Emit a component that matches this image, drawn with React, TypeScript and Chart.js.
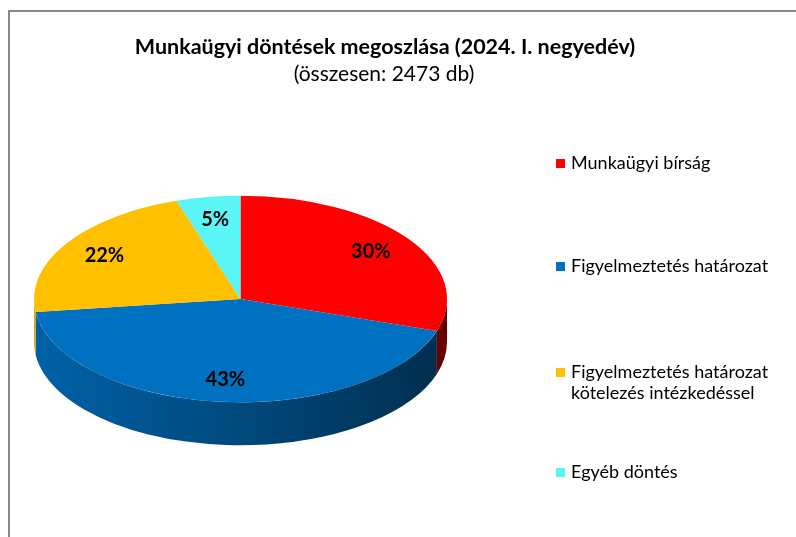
import React, { useEffect, useRef } from "react";
import { Chart, registerables } from "chart.js";

Chart.register(...registerables);

const titleText = "Munkaügyi döntések megoszlása (2024. I. negyedév)";
const subtitleText = "(összesen: 2473 db)";
const categories: (string | string[])[] = [
  "Munkaügyi bírság",
  "Figyelmeztetés határozat",
  ["Figyelmeztetés határozat", "kötelezés intézkedéssel"],
  "Egyéb döntés",
];
const counts = [742, 1063, 544, 124];
const colors = ["#FF0000", "#0070C0", "#FFC000", "#5CF5F5"];

const FONT = "Lato, 'Open Sans', sans-serif";
const SQUASH = 0.5;
const DEPTH = 43;
const LABEL_FRAC = 0.78;
const legendY = [163, 266, 372, 472];

function hexToRgb(h: string) {
  const n = parseInt(h.slice(1), 16);
  return [(n >> 16) & 255, (n >> 8) & 255, n & 255];
}
function shade(h: string, f: number) {
  const [r, g, b] = hexToRgb(h);
  return `rgb(${Math.round(r * f)},${Math.round(g * f)},${Math.round(b * f)})`;
}

const pie3d = {
  id: "pie3d",
  beforeDraw(chart: any) {
    const ctx = chart.ctx;
    ctx.save();
    ctx.fillStyle = "#ffffff";
    ctx.fillRect(0, 0, chart.width, chart.height);
    ctx.fillStyle = "#898989";
    ctx.fillRect(8, 10, chart.width - 8, 2);
    ctx.fillRect(8, 10, 2, chart.height - 10);
    ctx.restore();
  },
  beforeDatasetsDraw(chart: any) {
    const ctx = chart.ctx;
    const meta = chart.getDatasetMeta(0);
    const arcs = meta.data;
    if (!arcs.length) return;
    const cx = arcs[0].x;
    const cy = arcs[0].y;
    const R = arcs[0].outerRadius;
    const ry = R * SQUASH;
    ctx.save();
    arcs.forEach((arc: any, i: number) => {
      const s = arc.startAngle;
      const e = arc.endAngle;
      const ranges: [number, number][] = [];
      for (const off of [-2 * Math.PI, 0, 2 * Math.PI]) {
        const a0 = Math.max(s, off);
        const a1 = Math.min(e, off + Math.PI);
        if (a1 > a0) ranges.push([a0, a1]);
      }
      const base = colors[i % colors.length];
      ranges.forEach(([a0, a1]) => {
        const g = ctx.createLinearGradient(cx - R, 0, cx + R, 0);
        g.addColorStop(0, shade(base, 0.87));
        g.addColorStop(0.5, shade(base, 0.65));
        g.addColorStop(1, shade(base, 0.4));
        ctx.beginPath();
        ctx.ellipse(cx, cy, R, ry, 0, a0, a1, false);
        ctx.ellipse(cx, cy + DEPTH, R, ry, 0, a1, a0, true);
        ctx.closePath();
        ctx.fillStyle = g;
        ctx.fill();
      });
    });
    ctx.restore();
    ctx.save();
    ctx.translate(cx, cy);
    ctx.scale(1, SQUASH);
    ctx.translate(-cx, -cy);
  },
  afterDatasetsDraw(chart: any) {
    const ctx = chart.ctx;
    ctx.restore();
    const meta = chart.getDatasetMeta(0);
    const arcs = meta.data;
    const total = counts.reduce((a, b) => a + b, 0);
    ctx.save();
    ctx.font = `bold 20px ${FONT}`;
    ctx.fillStyle = "#000000";
    ctx.textAlign = "center";
    ctx.textBaseline = "middle";
    arcs.forEach((arc: any, i: number) => {
      const mid = (arc.startAngle + arc.endAngle) / 2;
      const x = arc.x + Math.cos(mid) * arc.outerRadius * LABEL_FRAC;
      const y = arc.y + Math.sin(mid) * arc.outerRadius * SQUASH * LABEL_FRAC;
      ctx.fillText(Math.round((counts[i] / total) * 100) + "%", x, y);
    });
    ctx.restore();
  },
  afterDraw(chart: any) {
    const ctx = chart.ctx;
    ctx.save();
    ctx.fillStyle = "#000000";
    ctx.textAlign = "center";
    ctx.textBaseline = "middle";
    ctx.font = `bold 21.5px ${FONT}`;
    ctx.fillText(titleText, 385, 47);
    ctx.font = `21px ${FONT}`;
    ctx.fillText(subtitleText, 384, 74);
    ctx.textAlign = "left";
    ctx.font = `18px ${FONT}`;
    categories.forEach((lab, i) => {
      const lines = Array.isArray(lab) ? lab : [lab];
      const y = legendY[i];
      ctx.fillStyle = colors[i];
      ctx.fillRect(556, y - 4, 9, 9);
      ctx.fillStyle = "#000000";
      lines.forEach((ln, j) => ctx.fillText(ln, 571, y + j * 21));
    });
    ctx.restore();
  },
};

export default function App() {
  const ref = useRef<HTMLCanvasElement>(null);
  useEffect(() => {
    if (!ref.current) return;
    const chart = new Chart(ref.current, {
      type: "pie",
      data: {
        labels: categories as any,
        datasets: [
          {
            data: counts,
            backgroundColor: colors,
            borderWidth: 0,
          },
        ],
      },
      options: {
        responsive: false,
        animation: false,
        layout: { padding: { left: 34, right: 349, top: 92, bottom: 31 } },
        plugins: {
          legend: { display: false },
          tooltip: { enabled: false },
          title: { display: false },
        },
      },
      plugins: [pie3d],
    });
    return () => chart.destroy();
  }, []);
  return (
    <div style={{ position: "fixed", left: 0, top: 0, width: 796, height: 537 }}>
      <canvas ref={ref} width={796} height={537} style={{ width: 796, height: 537, display: "block" }} />
    </div>
  );
}
